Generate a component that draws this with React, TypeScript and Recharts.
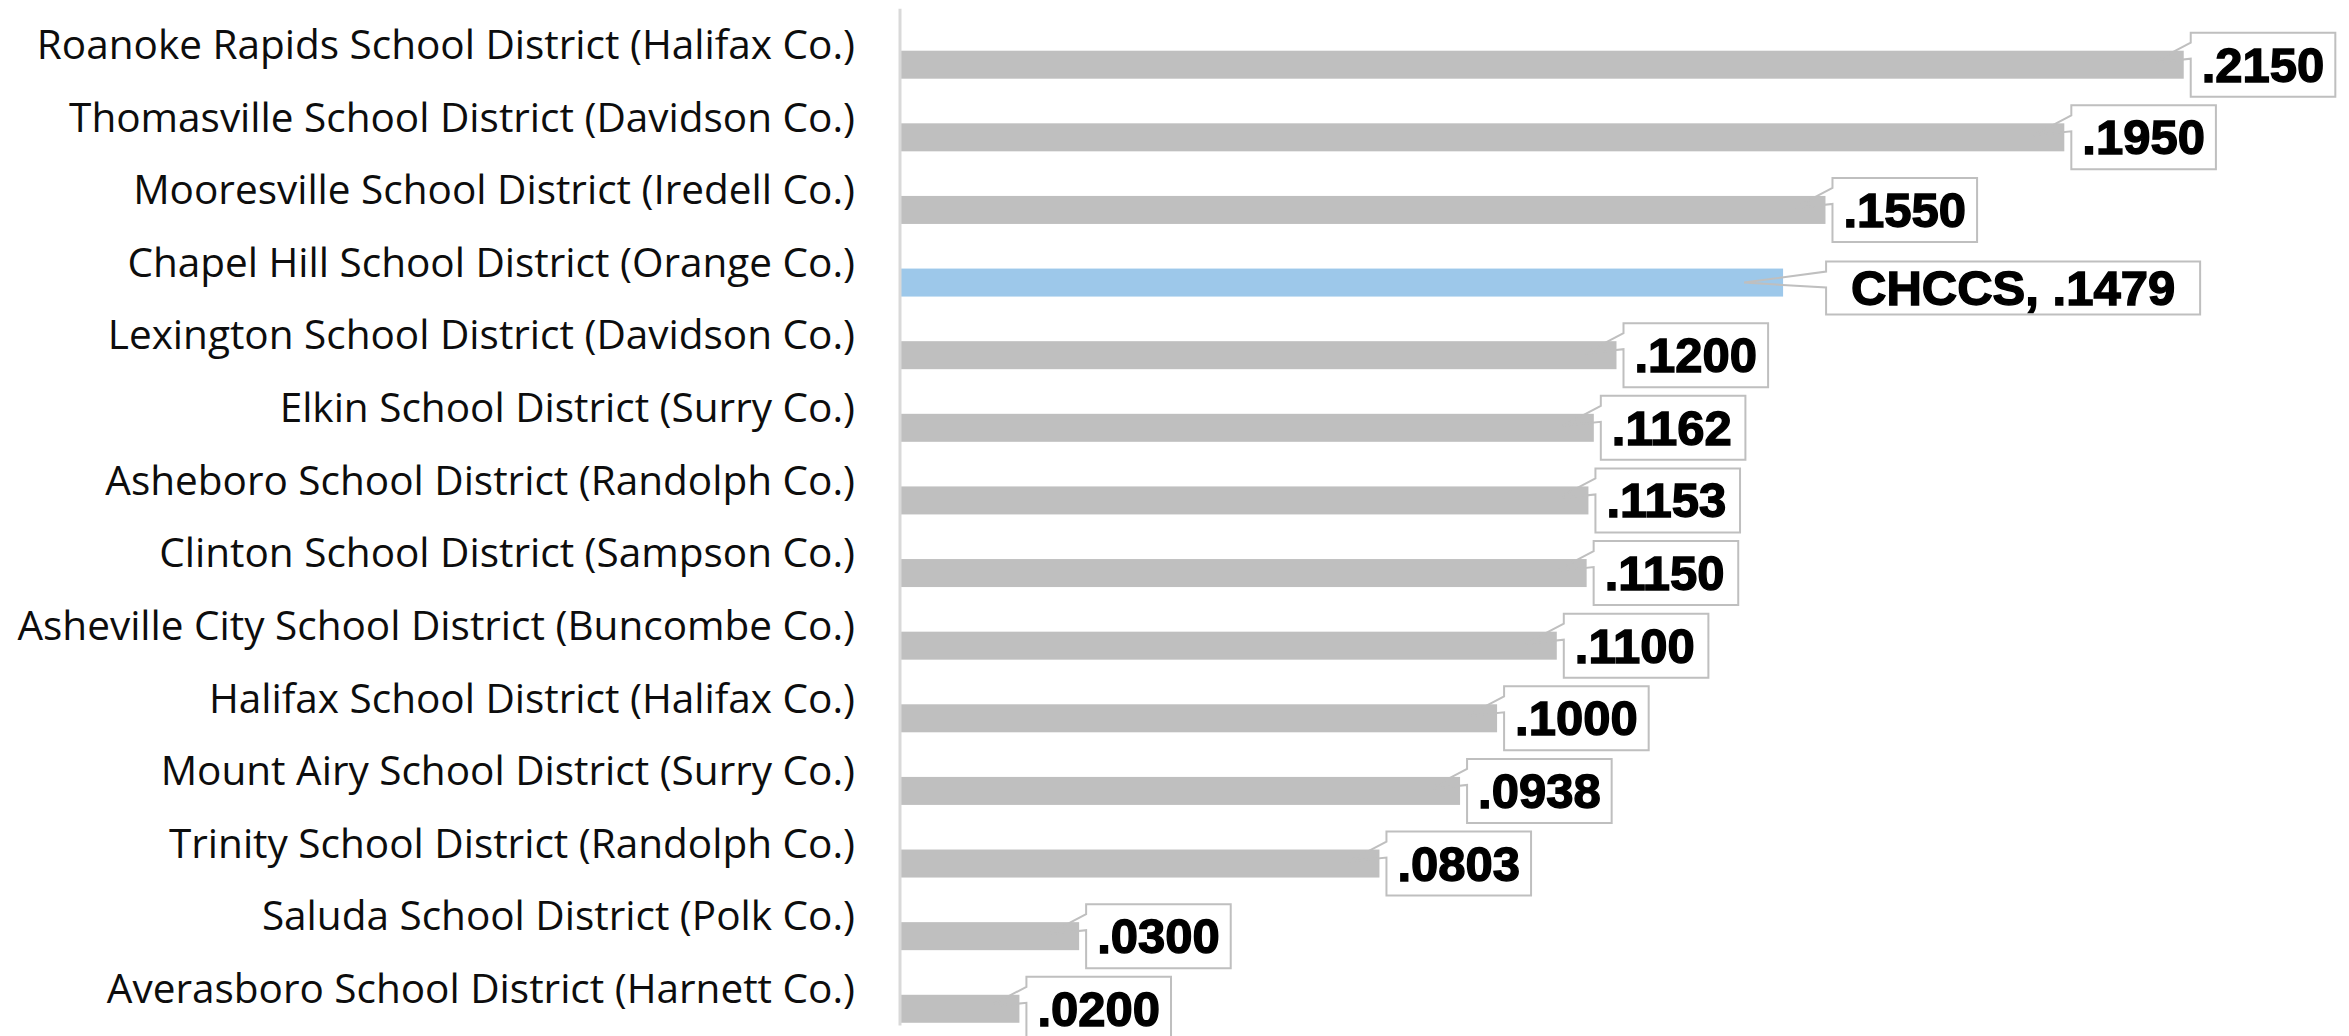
import React from 'react';
import { BarChart, Bar, XAxis, YAxis, LabelList } from 'recharts';

const districts = [
  'Roanoke Rapids School District (Halifax Co.)',
  'Thomasville School District (Davidson Co.)',
  'Mooresville School District (Iredell Co.)',
  'Chapel Hill School District (Orange Co.)',
  'Lexington School District (Davidson Co.)',
  'Elkin School District (Surry Co.)',
  'Asheboro School District (Randolph Co.)',
  'Clinton School District (Sampson Co.)',
  'Asheville City School District (Buncombe Co.)',
  'Halifax School District (Halifax Co.)',
  'Mount Airy School District (Surry Co.)',
  'Trinity School District (Randolph Co.)',
  'Saluda School District (Polk Co.)',
  'Averasboro School District (Harnett Co.)',
];

const rates = [0.215, 0.195, 0.155, 0.1479, 0.12, 0.1162, 0.1153, 0.115, 0.11, 0.1, 0.0938, 0.0803, 0.03, 0.02];

const valueLabels = [
  '.2150', '.1950', '.1550', 'CHCCS, .1479', '.1200', '.1162', '.1153',
  '.1150', '.1100', '.1000', '.0938', '.0803', '.0300', '.0200',
];

const HIGHLIGHT = 'Chapel Hill School District (Orange Co.)';

const GREY = '#bfbfbf';
const BLUE = '#9dc8ea';
const BAR_SHIFT = 20; // bars sit low in their band, like the original
const VALUE_FONT = 49;

const data = districts.map((name, i) => ({
  name,
  rate: rates[i],
  label: valueLabels[i],
  highlight: name === HIGHLIGHT,
}));

// rough Liberation Sans Bold widths (em)
const charW = (ch: string) => {
  if (/[0-9]/.test(ch)) return 0.556;
  if (ch === 'C' || ch === 'H') return 0.722;
  if (ch === 'S') return 0.667;
  return 0.278;
};
const textWidth = (s: string) => s.split('').reduce((a, c) => a + charW(c), 0) * VALUE_FONT;

const CategoryTick = (props: any) => {
  const { x, y, payload } = props;
  return (
    <text
      x={x}
      y={y + 14}
      textAnchor="end"
      fontFamily="'Open Sans', sans-serif"
      fontSize={40.5}
      fill="#0d0d0d"
    >
      {payload.value}
    </text>
  );
};

const ShiftedBar = (props: any) => {
  const { x, y, width, height, payload } = props;
  return (
    <rect
      x={x}
      y={y + BAR_SHIFT}
      width={Math.max(width, 0)}
      height={height}
      fill={payload.highlight ? BLUE : GREY}
    />
  );
};

const Callout = (props: any) => {
  const { x, y, width, height, value } = props;
  const hi = String(value).startsWith('CHCCS');
  const end = x + width;
  const cy = y + BAR_SHIFT + height / 2;
  const tw = textWidth(String(value));
  const pad = hi ? 25 : 11;
  const L = end + (hi ? 43 : 7);
  const R = L + tw + pad * 2;
  const T = hi ? cy - 21 : cy - 32;
  const B = cy + 32;
  const tipX = end - (hi ? 39 : 31);
  const tipY = hi ? cy : cy - 2;
  const outline = `M${L},${T + 10} L${L},${T} L${R},${T} L${R},${B} L${L},${B} L${L},${T + 26} L${tipX},${tipY} Z`;
  return (
    <g>
      <rect x={L} y={T} width={R - L} height={B - T} fill="#ffffff" />
      <path d={outline} fill="none" stroke="#bfbfbf" strokeWidth={2} strokeLinejoin="miter" />
      <text
        x={L + pad}
        y={hi ? cy + 22 : cy + 17}
        fontFamily="'Liberation Sans', Arial, sans-serif"
        fontWeight="bold"
        fontSize={VALUE_FONT}
        fill="#000000"
        stroke="#000000"
        strokeWidth={1.4}
      >
        {value}
      </text>
    </g>
  );
};

export default function App() {
  return (
    <div style={{ position: 'absolute', left: 0, top: 0, background: '#ffffff' }}>
      <BarChart
        width={2349}
        height={1036}
        data={data}
        layout="vertical"
        margin={{ top: 8.7, right: 16, bottom: 10.6, left: 0 }}
        barCategoryGap={0}
      >
        <XAxis type="number" domain={[0, 0.24]} hide />
        <YAxis
          type="category"
          dataKey="name"
          width={900}
          interval={0}
          tickSize={0}
          tickMargin={45}
          axisLine={{ stroke: '#d9d9d9', strokeWidth: 3 }}
          tickLine={false}
          tick={<CategoryTick />}
        />
        <Bar dataKey="rate" barSize={28} shape={<ShiftedBar />} isAnimationActive={false}>
          <LabelList dataKey="label" content={<Callout />} />
        </Bar>
      </BarChart>
    </div>
  );
}
